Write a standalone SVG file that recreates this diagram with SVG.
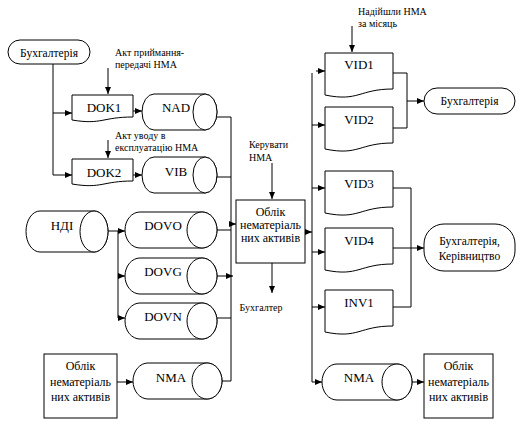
<svg xmlns="http://www.w3.org/2000/svg" width="523" height="429" viewBox="0 0 523 429">
<defs>
<marker id="ah" markerWidth="7" markerHeight="6" refX="7" refY="3" orient="auto" markerUnits="userSpaceOnUse">
<path d="M0,0 L7,3 L0,6 Z" fill="#000"/>
</marker>
<style>
.s{fill:#fff;stroke:#000;stroke-width:1}
.l{fill:none;stroke:#000;stroke-width:1}
.a{fill:none;stroke:#000;stroke-width:1;marker-end:url(#ah)}
text{font-family:"Liberation Serif","Tinos","Times New Roman","DejaVu Serif",serif;fill:#000}
.t13{font-size:13px;text-anchor:middle}
.t12{font-size:12px;text-anchor:middle}
.t11{font-size:11.5px;text-anchor:middle}
.n{font-size:10px}
</style>
</defs>
<rect width="523" height="429" fill="#fff"/>

<g id="connectors">
<path class="l" d="M53,64 V175"/>
<path class="a" d="M53,113 H72"/>
<path class="a" d="M53,175 H72"/>
<path class="a" d="M108,68 V94"/>
<path class="a" d="M108,140 V158"/>
<path class="a" d="M133,111 H142"/>
<path class="a" d="M133,175 H142"/>
<path class="l" d="M217,117 H231 V381"/>
<path class="l" d="M217,177 H231"/>
<path class="a" d="M231,224 H236"/>
<path class="l" d="M108,231 H118 V318"/>
<path class="a" d="M118,231 H125"/>
<path class="a" d="M118,276 H125"/>
<path class="a" d="M118,318 H125"/>
<path class="l" d="M217,230 H231"/>
<path class="a" d="M217,276 H233"/>
<path class="l" d="M217,318 H231"/>
<path class="a" d="M117,382 H133"/>
<path class="l" d="M222,381 H231"/>
<path class="a" d="M272,163 V199"/>
<path class="a" d="M272,263 V293"/>
<path class="a" d="M305,232 H312"/>
<path class="a" d="M352,26 V52"/>
<path class="l" d="M312,73 V382"/>
<path class="a" d="M316,71 H325"/>
<path class="a" d="M312,125 H325"/>
<path class="a" d="M312,188 H325"/>
<path class="a" d="M312,252 H325"/>
<path class="a" d="M312,307 H325"/>
<path class="a" d="M312,382 H322"/>
<path class="l" d="M393,73 H407 V128 H393"/>
<path class="a" d="M407,101 H424"/>
<path class="l" d="M393,188 H411 V307 H393"/>
<path class="a" d="M393,248 H424"/>
<path class="a" d="M412,382 H424"/>
</g>

<g id="buh1">
<rect class="s" x="8" y="40" width="82" height="24" rx="12" ry="12"/>
<text class="t11" x="49" y="57">Бухгалтерія</text>
</g>
<g id="note1">
<text class="n" x="115" y="56">Акт приймання-</text>
<text class="n" x="115" y="68">передачі НМА</text>
</g>
<g id="dok1">
<path class="s" d="M72,95 H133 V117 C102,117 102,125 72,120 Z"/>
<text class="t13" x="104" y="112">DOK1</text>
</g>
<g id="nad">
<path class="s" d="M154,94 H205 A12,18 0 0 1 205,130 H154 A12,18 0 0 1 154,94 Z"/>
<ellipse class="s" cx="205" cy="112" rx="12" ry="18"/>
<text class="t13" x="176" y="112">NAD</text>
</g>
<g id="note2">
<text class="n" x="115" y="139">Акт уводу в</text>
<text class="n" x="115" y="151">експлуатацію НМА</text>
</g>
<g id="dok2">
<path class="s" d="M72,159 H133 V181 C102,181 102,189 72,184 Z"/>
<text class="t13" x="104" y="177">DOK2</text>
</g>
<g id="vib">
<path class="s" d="M154,157 H205 A12,18 0 0 1 205,193 H154 A12,18 0 0 1 154,157 Z"/>
<ellipse class="s" cx="205" cy="175" rx="12" ry="18"/>
<text class="t13" x="176" y="176">VIB</text>
</g>
<g id="ndi">
<path class="s" d="M40,211 H94 A14,20.5 0 0 1 94,252 H40 A14,20.5 0 0 1 40,211 Z"/>
<ellipse class="s" cx="94" cy="231.5" rx="14" ry="20.5"/>
<text class="t13" x="62" y="230">НДІ</text>
</g>
<g id="dovo">
<path class="s" d="M140,212 H202 A15,18 0 0 1 202,248 H140 A15,18 0 0 1 140,212 Z"/>
<ellipse class="s" cx="202" cy="230" rx="15" ry="18"/>
<text class="t13" x="163" y="230">DOVO</text>
</g>
<g id="dovg">
<path class="s" d="M140,258 H202 A15,18 0 0 1 202,294 H140 A15,18 0 0 1 140,258 Z"/>
<ellipse class="s" cx="202" cy="276" rx="15" ry="18"/>
<text class="t13" x="163" y="276">DOVG</text>
</g>
<g id="dovn">
<path class="s" d="M140,303 H202 A15,18 0 0 1 202,339 H140 A15,18 0 0 1 140,303 Z"/>
<ellipse class="s" cx="202" cy="321" rx="15" ry="18"/>
<text class="t13" x="163" y="321">DOVN</text>
</g>
<g id="box_left">
<rect class="s" x="44" y="354" width="73" height="64"/>
<text class="t12" x="80.5" y="370">Облік</text>
<text class="t12" x="80.5" y="386">нематеріаль</text>
<text class="t12" x="80.5" y="401">них активів</text>
</g>
<g id="nma_left">
<path class="s" d="M148,363 H207 A15,18 0 0 1 207,399 H148 A15,18 0 0 1 148,363 Z"/>
<ellipse class="s" cx="207" cy="381" rx="15" ry="18"/>
<text class="t13" x="171" y="382">NMA</text>
</g>
<g id="note3">
<text class="n" x="249" y="148">Керувати</text>
<text class="n" x="249" y="161">НМА</text>
</g>
<g id="box_center">
<rect class="s" x="236" y="200" width="69" height="63"/>
<text class="t12" x="270.5" y="216">Облік</text>
<text class="t12" x="270.5" y="229">нематеріаль</text>
<text class="t12" x="270.5" y="242">них активів</text>
</g>
<g id="note4">
<text class="n" x="261" y="311" text-anchor="middle">Бухгалтер</text>
</g>
<g id="note5">
<text class="n" x="358" y="15">Надійшли НМА</text>
<text class="n" x="358" y="27">за місяць</text>
</g>
<g id="vid1">
<path class="s" d="M325,53 H393 V89 C359,89 359,102 325,95 Z"/>
<text class="t13" x="359" y="69">VID1</text>
</g>
<g id="vid2">
<path class="s" d="M325,107 H393 V143 C359,143 359,156 325,149 Z"/>
<text class="t13" x="359" y="124">VID2</text>
</g>
<g id="vid3">
<path class="s" d="M325,171 H393 V207 C359,207 359,220 325,213 Z"/>
<text class="t13" x="359" y="188">VID3</text>
</g>
<g id="vid4">
<path class="s" d="M325,228 H393 V264 C359,264 359,277 325,270 Z"/>
<text class="t13" x="359" y="245">VID4</text>
</g>
<g id="inv1">
<path class="s" d="M325,290 H393 V326 C359,326 359,339 325,332 Z"/>
<text class="t13" x="359" y="307">INV1</text>
</g>
<g id="buh2">
<rect class="s" x="424" y="88" width="91" height="26" rx="13" ry="13"/>
<text class="t11" x="469.5" y="105">Бухгалтерія</text>
</g>
<g id="buh3">
<rect class="s" x="424" y="224" width="91" height="47" rx="20" ry="20"/>
<text class="t11" x="469.5" y="245">Бухгалтерія,</text>
<text class="t11" x="469.5" y="260">Керівництво</text>
</g>
<g id="nma_right">
<path class="s" d="M337,364 H397 A15,18 0 0 1 397,400 H337 A15,18 0 0 1 337,364 Z"/>
<ellipse class="s" cx="397" cy="382" rx="15" ry="18"/>
<text class="t13" x="359" y="382">NMA</text>
</g>
<g id="box_right">
<rect class="s" x="424" y="354" width="69" height="64"/>
<text class="t12" x="458.5" y="370">Облік</text>
<text class="t12" x="458.5" y="386">нематеріаль</text>
<text class="t12" x="458.5" y="401">них активів</text>
</g>
</svg>
